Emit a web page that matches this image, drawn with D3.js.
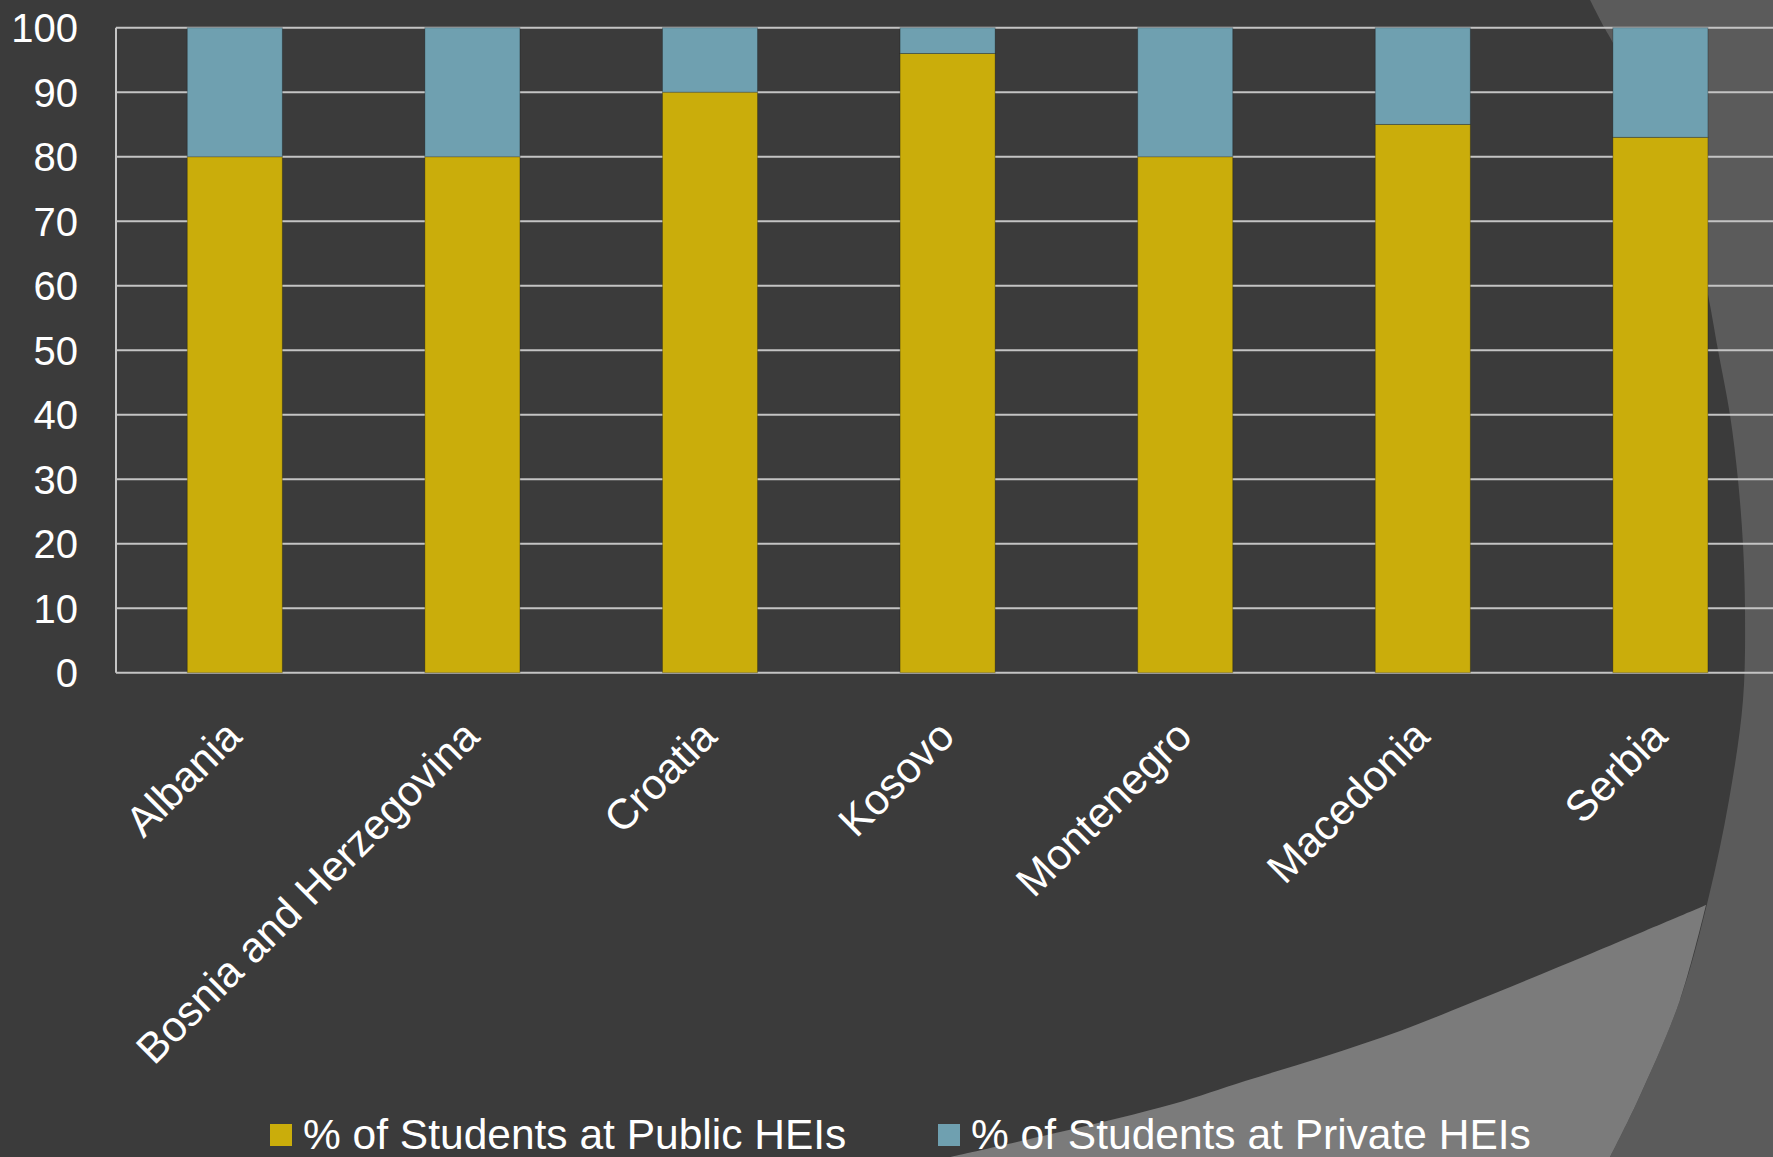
<!DOCTYPE html>
<html>
<head>
<meta charset="utf-8">
<script src="https://cdn.jsdelivr.net/npm/d3@7"></script>
<style>
  html, body { margin: 0; padding: 0; background: #3b3b3b; }
  svg { display: block; }
  text { font-family: "Liberation Sans", Arial, sans-serif; fill: #ffffff; }
</style>
</head>
<body>
<svg id="chart" width="1773" height="1157"></svg>
<script>
// Share of students by type of higher education institution (percent)
const categories = ["Albania", "Bosnia and Herzegovina", "Croatia", "Kosovo", "Montenegro", "Macedonia", "Serbia"];
const publicShare = [80, 80, 90, 96, 80, 85, 83];
const privateShare = [20, 20, 10, 4, 20, 15, 17];
const seriesNames = ["% of Students at Public HEIs", "% of Students at Private HEIs"];
const seriesColors = ["#caad0b", "#6fa0b0"];
const yTicks = [0, 10, 20, 30, 40, 50, 60, 70, 80, 90, 100];

const W = 1773, H = 1157;
const svg = d3.select("#chart");

// Theme backdrop: dark slide with two lighter swooshes on the right
svg.append("rect").attr("width", W).attr("height", H).attr("fill", "#3b3b3b");

const arcLine = d3.line().curve(d3.curveCatmullRom.alpha(0.5));
const outerArc = [[1590, 0], [1604, 27], [1613, 43], [1665, 150], [1695, 235], [1709, 300], [1718, 350],
                  [1730, 415], [1738, 480], [1743, 545], [1745, 610], [1743, 700], [1729, 800],
                  [1708, 900], [1680, 1000], [1638, 1100], [1610, 1157]];
svg.append("path")
  .attr("d", arcLine(outerArc) + `L${W + 10},${H + 10}L${W + 10},-10L1590,-10Z`)
  .attr("fill", "#5b5b5b");

// lower swoosh, bounded on the right by the outer arc
const lowerTop = [[950, 1157], [1060, 1132], [1173, 1104], [1245, 1081], [1323, 1057], [1400, 1031],
                  [1473, 1002], [1590, 954], [1706, 905]];
const lowerRight = outerArc.filter(p => p[1] > 905);
svg.append("path")
  .attr("d", arcLine(lowerTop) + arcLine([[1706, 905], ...lowerRight]).replace(/^M[^CL]*/, "") + "Z")
  .attr("fill", "#7b7b7b");

// Plot area
const plotLeft = 116, plotTop = 27.7, plotBottom = 672.7;
const step = 237.6;
const x = d3.scaleBand()
  .domain(categories)
  .range([plotLeft, plotLeft + step * categories.length])
  .paddingInner(0.6)
  .paddingOuter(0.3);
const y = d3.scaleLinear().domain([0, 100]).range([plotBottom, plotTop]);

// Gridlines
svg.append("g")
  .selectAll("line")
  .data(yTicks)
  .join("line")
  .attr("x1", plotLeft).attr("x2", W + 5)
  .attr("y1", d => y(d)).attr("y2", d => y(d))
  .attr("stroke", "#c4c4c4").attr("stroke-width", 2);

// Value axis line
svg.append("line")
  .attr("x1", plotLeft).attr("x2", plotLeft)
  .attr("y1", y(100)).attr("y2", y(0))
  .attr("stroke", "#c4c4c4").attr("stroke-width", 2);

// Stacked bars
const rows = categories.map((c, i) => ({ cat: c, pub: publicShare[i], priv: privateShare[i] }));
const stack = d3.stack().keys(["pub", "priv"])(rows);
svg.append("g")
  .selectAll("g")
  .data(stack)
  .join("g")
  .attr("fill", (d, i) => seriesColors[i])
  .selectAll("rect")
  .data(d => d)
  .join("rect")
  .attr("x", d => x(d.data.cat))
  .attr("width", x.bandwidth())
  .attr("y", d => y(d[1]))
  .attr("height", d => y(d[0]) - y(d[1]))
  .attr("stroke", "rgba(0,0,0,0.25)")
  .attr("stroke-width", 1);

// Value axis labels
svg.append("g")
  .selectAll("text")
  .data(yTicks)
  .join("text")
  .attr("x", 78)
  .attr("y", d => y(d))
  .attr("dy", "0.36em")
  .attr("text-anchor", "end")
  .attr("font-size", 40)
  .text(d => d);

// Category labels, rotated
svg.append("g")
  .selectAll("text")
  .data(categories)
  .join("text")
  .attr("transform", d => `translate(${x(d) + x.bandwidth() / 2 + 9},${plotBottom + 66}) rotate(-45)`)
  .attr("text-anchor", "end")
  .attr("font-size", 42.5)
  .text(d => d);

// Legend
const legendX = [270, 938];
const legend = svg.append("g")
  .selectAll("g")
  .data(seriesNames)
  .join("g")
  .attr("transform", (d, i) => `translate(${legendX[i]},0)`);
legend.append("rect")
  .attr("x", 0).attr("y", 1124)
  .attr("width", 22).attr("height", 22)
  .attr("fill", (d, i) => seriesColors[i]);
legend.append("text")
  .attr("x", 33).attr("y", 1149)
  .attr("font-size", 42.5)
  .text(d => d);
</script>
</body>
</html>
